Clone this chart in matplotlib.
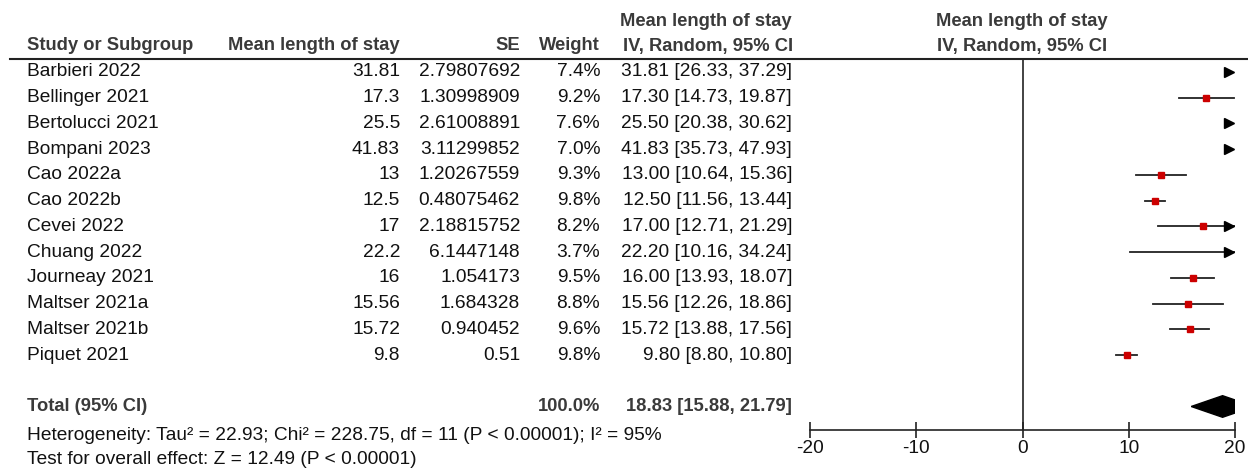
import numpy as np
import matplotlib.pyplot as plt
from matplotlib.patches import Polygon

plt.rcParams['font.family'] = ['Liberation Sans', 'DejaVu Sans']
plt.rcParams['axes.unicode_minus'] = False

studies = ["Barbieri 2022", "Bellinger 2021", "Bertolucci 2021", "Bompani 2023",
           "Cao 2022a", "Cao 2022b", "Cevei 2022", "Chuang 2022", "Journeay 2021",
           "Maltser 2021a", "Maltser 2021b", "Piquet 2021"]
mean_los = ["31.81", "17.3", "25.5", "41.83", "13", "12.5", "17", "22.2",
            "16", "15.56", "15.72", "9.8"]
se = ["2.79807692", "1.30998909", "2.61008891", "3.11299852", "1.20267559",
      "0.48075462", "2.18815752", "6.1447148", "1.054173", "1.684328",
      "0.940452", "0.51"]
weight = [7.4, 9.2, 7.6, 7.0, 9.3, 9.8, 8.2, 3.7, 9.5, 8.8, 9.6, 9.8]
est = [31.81, 17.30, 25.50, 41.83, 13.00, 12.50, 17.00, 22.20, 16.00, 15.56, 15.72, 9.80]
lo = [26.33, 14.73, 20.38, 35.73, 10.64, 11.56, 12.71, 10.16, 13.93, 12.26, 13.88, 8.80]
hi = [37.29, 19.87, 30.62, 47.93, 15.36, 13.44, 21.29, 34.24, 18.07, 18.86, 17.56, 10.80]
total_weight = 100.0
total_est, total_lo, total_hi = 18.83, 15.88, 21.79
xticks = [-20, -10, 0, 10, 20]
heterogeneity = "Heterogeneity: Tau² = 22.93; Chi² = 228.75, df = 11 (P < 0.00001); I² = 95%"
overall = "Test for overall effect: Z = 12.49 (P < 0.00001)"

W, H = 1248, 472
fig = plt.figure(figsize=(W / 100, H / 100), dpi=100)

# background axes in pixel coords for the table text
tab = fig.add_axes([0, 0, 1, 1])
tab.set_xlim(0, W)
tab.set_ylim(H, 0)
tab.axis('off')

row0, step = 72, 25.73
fs = 13.8
hdr = dict(fontsize=13.2, fontweight='bold', color='#3a3a3a', va='center')
txt = dict(fontsize=fs, color='#111111', va='center')

tab.text(27, 46, "Study or Subgroup", ha='left', **hdr)
tab.text(400, 46, "Mean length of stay", ha='right', **hdr)
tab.text(520, 46, "SE", ha='right', **hdr)
tab.text(600, 46, "Weight", ha='right', **hdr)
tab.text(706, 21, "Mean length of stay", ha='center', **hdr)
tab.text(708, 46, "IV, Random, 95% CI", ha='center', **hdr)
tab.text(1022, 21, "Mean length of stay", ha='center', **hdr)
tab.text(1022, 46, "IV, Random, 95% CI", ha='center', **hdr)
tab.plot([10, W], [59, 59], color='#222222', lw=1.5)

for i, name in enumerate(studies):
    y = row0 + i * step
    tab.text(27, y, name, ha='left', **txt)
    tab.text(400, y, mean_los[i], ha='right', **txt)
    tab.text(520, y, se[i], ha='right', **txt)
    tab.text(600, y, f"{weight[i]:.1f}%", ha='right', **txt)
    tab.text(792, y, f"{est[i]:.2f} [{lo[i]:.2f}, {hi[i]:.2f}]", ha='right', **txt)

ytot = row0 + 13 * step
tab.text(27, ytot, "Total (95% CI)", ha='left', **hdr)
tab.text(600, ytot, f"{total_weight:.1f}%", ha='right', **hdr)
tab.text(792, ytot, f"{total_est:.2f} [{total_lo:.2f}, {total_hi:.2f}]", ha='right', **hdr)
tab.text(27, 435, heterogeneity, ha='left', **txt)
tab.text(27, 460, overall, ha='left', **txt)

# forest plot axes
x0, x1, ytop, ybot = 810, 1235, 59, 430
ax = fig.add_axes([x0 / W, (H - ybot) / H, (x1 - x0) / W, (ybot - ytop) / H])
ax.patch.set_alpha(0)
ax.set_xlim(-20, 20)
ax.set_ylim((ybot - row0) / step, (ytop - row0) / step)
for s in ['top', 'right', 'left']:
    ax.spines[s].set_visible(False)
ax.spines['bottom'].set_linewidth(1.2)
ax.spines['bottom'].set_color('#222222')
ax.set_yticks([])
ax.set_xticks(xticks)
ax.tick_params(axis='x', direction='inout', length=12, width=1.2, color='#222222',
               labelsize=fs, labelcolor='#111111', pad=1)
ax.axvline(0, color='#222222', lw=1.2)

for i in range(len(studies)):
    a, b = max(lo[i], -20), min(hi[i], 20)
    if a < b:
        ax.plot([a, b], [i, i], color='#222222', lw=1.3)
    if -20 <= est[i] <= 20:
        ax.plot(est[i], i, 's', color='#cc0000', ms=weight[i] * 0.47, mec='#cc0000')
    if hi[i] > 20:
        ax.plot(19.4, i, '>', color='black', ms=6.5, clip_on=False)

d = 0.42
ax.add_patch(Polygon([[total_lo, 13], [total_est, 13 - d], [total_hi, 13], [total_est, 13 + d]],
                     closed=True, color='black'))

fig.savefig("out.png", dpi=100)
